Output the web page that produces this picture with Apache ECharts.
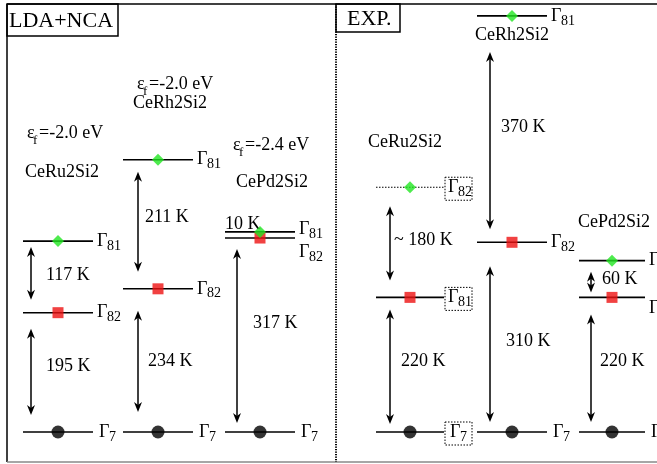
<!DOCTYPE html>
<html>
<head>
<meta charset="utf-8">
<script src="https://cdn.jsdelivr.net/npm/echarts@6/dist/echarts.min.js"></script>
<style>
  html, body { margin: 0; padding: 0; background: #fff; }
  #chart { width: 657px; height: 464px; }
</style>
</head>
<body>
<div id="chart"></div>
<script>
// data (energies in K above the Γ7 ground state)
const panels = ['LDA+NCA', 'EXP.']
const compounds = ['CeRu2Si2', 'CeRh2Si2', 'CePd2Si2', 'CeRu2Si2', 'CeRh2Si2', 'CePd2Si2']
const epsF = ['=-2.0 eV', '=-2.0 eV', '=-2.4 eV']
const groundName = ['7', '7', '7', '7', '7', '7']
const lowerE = [195, 234, 317, 220, 310, 220]
const lowerName = ['82', '82', '82', '81', '82', '81']
const upperE = [312, 445, 327, 400, 680, 280]
const upperName = ['81', '81', '81', '82', '81', '82']
const gapCol = [0, 0, 1, 1, 2, 2, 3, 3, 4, 4, 5, 5]
const gapFrom = [195, 0, 234, 0, 317, 0, 220, 0, 310, 0, 220, 0]
const gapTo = [312, 195, 445, 234, 327, 317, 400, 220, 680, 310, 280, 220]
const gapLabel = ['117 K', '195 K', '211 K', '234 K', '10 K', '317 K', '~ 180 K', '220 K', '370 K', '310 K', '60 K', '220 K']

// layout
const colX = [58, 158, 260, 410, 512, 612]
const lineHalf = [35, 35, 35, 34, 35, 33]
const arrowDx = [-27, -20, -23, -20, -22, -21]
const arrowShown = [1, 1, 1, 1, 0, 1, 1, 1, 1, 1, 1, 1]
const gapTop = [6, 16, 12, 22, 0, 11, 19, 12, 36, 24, 11, 17]
const gapBot = [13, 17, 17, 20, 0, 9, 17, 8, 13, 10, 5, 10]
const labelDx = [15, 15, 7, 10, 0, 16, 4, 11, 11, 16, 11, 9]
const labelDy = [-2, -6, -7, 1, 0, -12, -2, -3, -2, 4, 0, -3]
const serif = '"Liberation Serif", "Times New Roman", serif'

const levelData = []
colX.forEach((x, i) => {
  levelData.push([x, 0, groundName[i]])
  levelData.push([x, lowerE[i], lowerName[i]])
  levelData.push([x, upperE[i], upperName[i]])
})
const gapData = gapCol.map((c, j) => [colX[c] + arrowDx[c], gapFrom[j], gapTo[j]])

const txt = (text, x, y, size, extra) => ({
  type: 'text',
  style: Object.assign({ text, x, y, fontSize: size, fontFamily: serif, fill: '#000', align: 'left', verticalAlign: 'middle' }, extra || {}),
})

const renderLevel = (params, api) => {
  const idx = params.dataIndex
  const col = Math.floor(idx / 3)
  const k = idx % 3
  const p = api.coord([api.value(0), api.value(1)])
  const dotted = col === 3 && k === 2
  const boxed = col === 3
  let dy = 0
  if (col === 2 && k === 1) dy = 14
  if (col === 2 && k === 2) dy = -3
  if (col === 5 && k === 1) dy = 11
  const half = lineHalf[col]
  const x1 = p[0] + half
  const lx = x1 + (k === 0 ? 6 : 4)
  const children = [
    {
      type: 'line',
      shape: { x1: p[0] - half, y1: p[1], x2: x1, y2: p[1] },
      style: { stroke: '#000', lineWidth: dotted ? 1.2 : 1.6, lineDash: dotted ? [1.5, 1.5] : null },
    },
    txt('Γ', lx, p[1] + dy, 18),
    txt(levelData[idx][2], lx + 10, p[1] + dy + 5, 14),
  ]
  if (boxed) {
    children.push({
      type: 'rect',
      shape: { x: x1 + 1, y: p[1] - 10, width: 27, height: 23 },
      style: { fill: null, stroke: '#000', lineWidth: 1, lineDash: [1.5, 1.5] },
    })
  }
  return { type: 'group', children }
}

const renderGap = (params, api) => {
  const j = params.dataIndex
  const top = api.coord([api.value(0), api.value(2)])
  const bot = api.coord([api.value(0), api.value(1)])
  const x = top[0]
  if (!arrowShown[j]) {
    const c = gapCol[j]
    const lx = api.coord([colX[c], 0])[0] - lineHalf[c]
    return txt(gapLabel[j], lx, top[1] - 8, 18)
  }
  const y0 = top[1] + gapTop[j]
  const y1 = bot[1] - gapBot[j]
  return {
    type: 'group',
    children: [
      { type: 'line', shape: { x1: x, y1: y0 + 3, x2: x, y2: y1 - 3 }, style: { stroke: '#000', lineWidth: 1.5 } },
      { type: 'polygon', shape: { points: [[x, y0], [x + 4, y0 + 10], [x, y0 + 7], [x - 4, y0 + 10]] }, style: { fill: '#000' } },
      { type: 'polygon', shape: { points: [[x, y1], [x + 4, y1 - 10], [x, y1 - 7], [x - 4, y1 - 10]] }, style: { fill: '#000' } },
      txt(gapLabel[j], x + labelDx[j], (top[1] + bot[1]) / 2 + labelDy[j], 18),
    ],
  }
}

// annotation text
const nameX = [25, 133, 236, 368, 475, 578]
const nameY = [172, 103, 182, 142, 35, 222]
const epsX = [27, 137, 233]
const epsY = [133, 84, 145]
const graphics = [
  { type: 'line', shape: { x1: 7, y1: 4, x2: 657, y2: 4 }, style: { stroke: '#000', lineWidth: 1.5 } },
  { type: 'line', shape: { x1: 7, y1: 4, x2: 7, y2: 462 }, style: { stroke: '#000', lineWidth: 1.5 } },
  { type: 'line', shape: { x1: 7, y1: 462, x2: 657, y2: 462 }, style: { stroke: '#888', lineWidth: 1.5 } },
  { type: 'line', shape: { x1: 336, y1: 4, x2: 336, y2: 462 }, style: { stroke: '#000', lineWidth: 2, lineDash: [1.2, 1.3] } },
  { type: 'rect', shape: { x: 7, y: 4, width: 111, height: 32 }, style: { fill: null, stroke: '#000', lineWidth: 1.5 } },
  { type: 'rect', shape: { x: 336, y: 4, width: 64, height: 28 }, style: { fill: null, stroke: '#000', lineWidth: 1.5 } },
  txt(panels[0], 9, 21, 22),
  txt(panels[1], 347, 19, 22),
]
compounds.forEach((n, i) => graphics.push(txt(n, nameX[i], nameY[i], 18)))
epsF.forEach((e, i) => {
  graphics.push(txt('ε', epsX[i], epsY[i], 18))
  graphics.push(txt('f', epsX[i] + 6, epsY[i] + 8, 13))
  graphics.push(txt(e, epsX[i] + 12, epsY[i], 18))
})

const chart = echarts.init(document.getElementById('chart'))
chart.setOption({
  animation: false,
  grid: { left: 0, right: 0, top: 0, bottom: 32 },
  xAxis: { type: 'value', min: 0, max: 657, show: false },
  yAxis: { type: 'value', min: 0, max: 706, show: false },
  graphic: graphics,
  series: [
    { type: 'custom', renderItem: renderLevel, data: levelData, z: 2, silent: true },
    { type: 'custom', renderItem: renderGap, data: gapData, z: 2, silent: true },
    {
      type: 'scatter', symbol: 'circle', symbolSize: 13, z: 3,
      itemStyle: { color: '#000' },
      data: colX.map((x) => [x, 0]),
    },
    {
      type: 'scatter', symbol: 'rect', symbolSize: 11, z: 4,
      itemStyle: { color: '#ee1111' },
      data: colX.map((x, i) => [x, lowerE[i]]),
    },
    {
      type: 'scatter', symbol: 'diamond', symbolSize: [12, 12], z: 5,
      itemStyle: { color: '#22e622' },
      data: colX.map((x, i) => [x, upperE[i]]),
    },
  ],
})
</script>
</body>
</html>
